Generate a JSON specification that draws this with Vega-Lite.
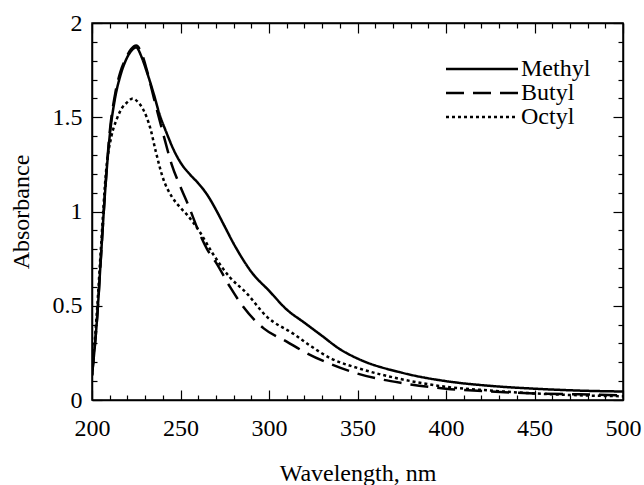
{
  "$schema": "https://vega.github.io/schema/vega-lite/v6.json",
  "width": 531,
  "height": 377,
  "autosize": {"type": "none"},
  "padding": {"left": 92, "top": 23, "right": 21, "bottom": 85},
  "background": "white",
  "config": {
    "view": {"stroke": "black", "strokeWidth": 1.5},
    "axis": {
      "domainColor": "black",
      "tickColor": "black",
      "labelColor": "black",
      "titleColor": "black",
      "labelFont": "Liberation Serif",
      "titleFont": "Liberation Serif",
      "labelFontSize": 24,
      "titleFontSize": 24,
      "titleFontWeight": "normal",
      "grid": false,
      "labelFlush": false,
      "labelOverlap": false,
      "domainWidth": 1.5,
      "tickWidth": 1.2
    },
    "legend": {
      "labelFont": "Liberation Serif",
      "labelFontSize": 24,
      "labelColor": "black"
    }
  },
  "data": {
    "values": [
      {"w": 200, "a": 0.13, "s": "Methyl"},
      {"w": 203, "a": 0.45, "s": "Methyl"},
      {"w": 205, "a": 0.75, "s": "Methyl"},
      {"w": 207, "a": 1.05, "s": "Methyl"},
      {"w": 210, "a": 1.40, "s": "Methyl"},
      {"w": 213, "a": 1.60, "s": "Methyl"},
      {"w": 216, "a": 1.72, "s": "Methyl"},
      {"w": 219, "a": 1.80, "s": "Methyl"},
      {"w": 222, "a": 1.85, "s": "Methyl"},
      {"w": 225, "a": 1.87, "s": "Methyl"},
      {"w": 228, "a": 1.82, "s": "Methyl"},
      {"w": 231, "a": 1.74, "s": "Methyl"},
      {"w": 235, "a": 1.62, "s": "Methyl"},
      {"w": 238, "a": 1.52, "s": "Methyl"},
      {"w": 242, "a": 1.42, "s": "Methyl"},
      {"w": 246, "a": 1.33, "s": "Methyl"},
      {"w": 250, "a": 1.26, "s": "Methyl"},
      {"w": 255, "a": 1.20, "s": "Methyl"},
      {"w": 260, "a": 1.15, "s": "Methyl"},
      {"w": 265, "a": 1.09, "s": "Methyl"},
      {"w": 270, "a": 1.01, "s": "Methyl"},
      {"w": 275, "a": 0.92, "s": "Methyl"},
      {"w": 280, "a": 0.83, "s": "Methyl"},
      {"w": 285, "a": 0.75, "s": "Methyl"},
      {"w": 290, "a": 0.68, "s": "Methyl"},
      {"w": 300, "a": 0.58, "s": "Methyl"},
      {"w": 310, "a": 0.48, "s": "Methyl"},
      {"w": 320, "a": 0.41, "s": "Methyl"},
      {"w": 330, "a": 0.34, "s": "Methyl"},
      {"w": 340, "a": 0.27, "s": "Methyl"},
      {"w": 350, "a": 0.22, "s": "Methyl"},
      {"w": 375, "a": 0.145, "s": "Methyl"},
      {"w": 400, "a": 0.10, "s": "Methyl"},
      {"w": 425, "a": 0.075, "s": "Methyl"},
      {"w": 450, "a": 0.06, "s": "Methyl"},
      {"w": 475, "a": 0.05, "s": "Methyl"},
      {"w": 500, "a": 0.045, "s": "Methyl"},
      {"w": 200, "a": 0.13, "s": "Butyl"},
      {"w": 203, "a": 0.45, "s": "Butyl"},
      {"w": 205, "a": 0.75, "s": "Butyl"},
      {"w": 207, "a": 1.05, "s": "Butyl"},
      {"w": 210, "a": 1.42, "s": "Butyl"},
      {"w": 213, "a": 1.62, "s": "Butyl"},
      {"w": 216, "a": 1.74, "s": "Butyl"},
      {"w": 219, "a": 1.81, "s": "Butyl"},
      {"w": 222, "a": 1.86, "s": "Butyl"},
      {"w": 225, "a": 1.88, "s": "Butyl"},
      {"w": 228, "a": 1.84, "s": "Butyl"},
      {"w": 231, "a": 1.75, "s": "Butyl"},
      {"w": 235, "a": 1.60, "s": "Butyl"},
      {"w": 240, "a": 1.42, "s": "Butyl"},
      {"w": 245, "a": 1.25, "s": "Butyl"},
      {"w": 250, "a": 1.13, "s": "Butyl"},
      {"w": 255, "a": 1.02, "s": "Butyl"},
      {"w": 260, "a": 0.90, "s": "Butyl"},
      {"w": 265, "a": 0.80, "s": "Butyl"},
      {"w": 270, "a": 0.73, "s": "Butyl"},
      {"w": 278, "a": 0.60, "s": "Butyl"},
      {"w": 285, "a": 0.50, "s": "Butyl"},
      {"w": 297, "a": 0.38, "s": "Butyl"},
      {"w": 310, "a": 0.31, "s": "Butyl"},
      {"w": 321, "a": 0.25, "s": "Butyl"},
      {"w": 335, "a": 0.19, "s": "Butyl"},
      {"w": 350, "a": 0.14, "s": "Butyl"},
      {"w": 375, "a": 0.09, "s": "Butyl"},
      {"w": 400, "a": 0.06, "s": "Butyl"},
      {"w": 425, "a": 0.045, "s": "Butyl"},
      {"w": 450, "a": 0.035, "s": "Butyl"},
      {"w": 475, "a": 0.03, "s": "Butyl"},
      {"w": 500, "a": 0.025, "s": "Butyl"},
      {"w": 200, "a": 0.13, "s": "Octyl"},
      {"w": 203, "a": 0.50, "s": "Octyl"},
      {"w": 205, "a": 0.80, "s": "Octyl"},
      {"w": 208, "a": 1.22, "s": "Octyl"},
      {"w": 211, "a": 1.40, "s": "Octyl"},
      {"w": 214, "a": 1.49, "s": "Octyl"},
      {"w": 217, "a": 1.55, "s": "Octyl"},
      {"w": 220, "a": 1.58, "s": "Octyl"},
      {"w": 223, "a": 1.60, "s": "Octyl"},
      {"w": 226, "a": 1.58, "s": "Octyl"},
      {"w": 229, "a": 1.54, "s": "Octyl"},
      {"w": 233, "a": 1.44, "s": "Octyl"},
      {"w": 236, "a": 1.32, "s": "Octyl"},
      {"w": 240, "a": 1.18, "s": "Octyl"},
      {"w": 245, "a": 1.08, "s": "Octyl"},
      {"w": 250, "a": 1.02, "s": "Octyl"},
      {"w": 254, "a": 0.98, "s": "Octyl"},
      {"w": 261, "a": 0.89, "s": "Octyl"},
      {"w": 268, "a": 0.78, "s": "Octyl"},
      {"w": 278, "a": 0.65, "s": "Octyl"},
      {"w": 287, "a": 0.57, "s": "Octyl"},
      {"w": 299, "a": 0.44, "s": "Octyl"},
      {"w": 314, "a": 0.35, "s": "Octyl"},
      {"w": 323, "a": 0.29, "s": "Octyl"},
      {"w": 335, "a": 0.22, "s": "Octyl"},
      {"w": 350, "a": 0.17, "s": "Octyl"},
      {"w": 375, "a": 0.11, "s": "Octyl"},
      {"w": 400, "a": 0.07, "s": "Octyl"},
      {"w": 425, "a": 0.05, "s": "Octyl"},
      {"w": 450, "a": 0.035, "s": "Octyl"},
      {"w": 475, "a": 0.025, "s": "Octyl"},
      {"w": 500, "a": 0.02, "s": "Octyl"}
    ]
  },
  "resolve": {"axis": {"x": "independent", "y": "independent"}},
  "layer": [
    {
      "mark": {"type": "line", "color": "black", "strokeWidth": 2.5, "interpolate": "monotone", "clip": true},
      "encoding": {
        "x": {
          "field": "w", "type": "quantitative",
          "scale": {"domain": [200, 500], "nice": false, "zero": false},
          "axis": {
            "orient": "bottom",
            "title": "Wavelength, nm",
            "values": [200,210,220,230,240,250,260,270,280,290,300,310,320,330,340,350,360,370,380,390,400,410,420,430,440,450,460,470,480,490,500],
            "format": "d",
            "labelExpr": "datum.value % 50 === 0 ? datum.label : ''",
            "tickSize": {"condition": {"test": "datum.value % 50 === 0", "value": -10}, "value": -5},
            "labelPadding": 26,
            "titlePadding": 16
          }
        },
        "y": {
          "field": "a", "type": "quantitative",
          "scale": {"domain": [0, 2], "nice": false},
          "axis": {
            "orient": "left",
            "title": "Absorbance",
            "values": [0,0.1,0.2,0.3,0.4,0.5,0.6,0.7,0.8,0.9,1,1.1,1.2,1.3,1.4,1.5,1.6,1.7,1.8,1.9,2],
            "labelExpr": "abs(datum.value*2 - round(datum.value*2)) < 0.001 ? format(datum.value, '.1~f') : ''",
            "tickSize": {"condition": {"test": "abs(datum.value*2 - round(datum.value*2)) < 0.001", "value": -10}, "value": -5},
            "labelPadding": 20,
            "titlePadding": 19
          }
        },
        "strokeDash": {
          "field": "s", "type": "nominal",
          "scale": {"domain": ["Methyl", "Butyl", "Octyl"], "range": [[1, 0], [18, 9], [3, 3]]},
          "legend": {
            "orient": "none",
            "legendX": 378,
            "legendY": 34,
            "title": null,
            "symbolType": "M-3.6,0H3.6",
            "symbolSize": 400,
            "symbolStrokeWidth": 2.5,
            "symbolStrokeColor": "black",
            "labelOffset": 27,
            "rowPadding": -6
          }
        }
      }
    },
    {
      "mark": {"type": "line", "opacity": 0},
      "encoding": {
        "x": {
          "field": "w", "type": "quantitative",
          "scale": {"domain": [200, 500], "nice": false, "zero": false},
          "axis": {
            "orient": "top",
            "title": null,
            "labels": false,
            "values": [200,210,220,230,240,250,260,270,280,290,300,310,320,330,340,350,360,370,380,390,400,410,420,430,440,450,460,470,480,490,500],
            "tickSize": {"condition": {"test": "datum.value % 50 === 0", "value": -10}, "value": -5}
          }
        },
        "y": {
          "field": "a", "type": "quantitative",
          "scale": {"domain": [0, 2], "nice": false},
          "axis": {
            "orient": "right",
            "title": null,
            "labels": false,
            "values": [0,0.1,0.2,0.3,0.4,0.5,0.6,0.7,0.8,0.9,1,1.1,1.2,1.3,1.4,1.5,1.6,1.7,1.8,1.9,2],
            "tickSize": {"condition": {"test": "abs(datum.value*2 - round(datum.value*2)) < 0.001", "value": -10}, "value": -5}
          }
        },
        "detail": {"field": "s", "type": "nominal"}
      }
    }
  ]
}
